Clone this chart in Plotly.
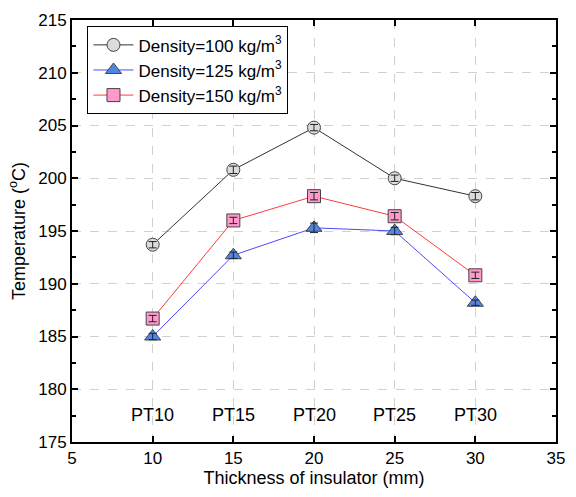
import plotly.graph_objects as go

# thickness of insulator (mm)
thickness = [10, 15, 20, 25, 30]
pt_labels = ["PT10", "PT15", "PT20", "PT25", "PT30"]

temp_100 = [193.7, 200.8, 204.8, 200.0, 198.3]
temp_125 = [185.0, 192.7, 195.3, 195.0, 188.2]
temp_150 = [186.7, 196.0, 198.3, 196.4, 190.8]

err_100 = [0.3, 0.35, 0.3, 0.3, 0.35]
err_125 = [0.3, 0.3, 0.45, 0.35, 0.25]
err_150 = [0.3, 0.3, 0.35, 0.35, 0.3]

series = [
    ("Density=100 kg/m<sup>3</sup>", temp_100, err_100, "circle", "#dcdcdc", "#333333", 13),
    ("Density=125 kg/m<sup>3</sup>", temp_125, err_125, "triangle-up", "#4f86e6", "#4a4aff", 14),
    ("Density=150 kg/m<sup>3</sup>", temp_150, err_150, "square", "#ff99cc", "#ff3b3b", 13),
]

fig = go.Figure()

for name, vals, _, sym, fill, line_col, size in series:
    fig.add_trace(go.Scatter(
        x=thickness, y=vals, name=name, mode="lines+markers",
        line=dict(color=line_col, width=1),
        marker=dict(symbol=sym, size=size, color=fill,
                    line=dict(color="#444444", width=1)),
    ))

# error bars drawn on top of the markers
for name, vals, errs, *_ in series:
    fig.add_trace(go.Scatter(
        x=thickness, y=vals, mode="markers", showlegend=False,
        marker=dict(size=1, opacity=0),
        error_y=dict(type="data", array=errs, color="#222222",
                     thickness=1, width=4),
        hoverinfo="skip",
    ))

for x, lab in zip(thickness, pt_labels):
    fig.add_annotation(x=x, y=177.6, text=lab, showarrow=False,
                       font=dict(size=18, color="black"))

axis_common = dict(
    showline=True, linecolor="black", linewidth=2, mirror="ticks",
    ticks="inside", ticklen=6, tickcolor="black", tickwidth=2,
    showgrid=True, gridcolor="#d0d0d0", griddash="dash", gridwidth=1,
    zeroline=False, tickfont=dict(size=17, color="black"),
)

fig.update_xaxes(
    range=[5, 35], dtick=5, tick0=5,
    title=dict(text="Thickness of insulator (mm)", font=dict(size=18, color="black"), standoff=2),
    **axis_common,
)
fig.update_yaxes(
    range=[175, 215], dtick=5,
    minor=dict(ticks="inside", ticklen=4, tickcolor="black", dtick=2.5, showgrid=False),
    title=dict(text="Temperature (<sup>o</sup>C)", font=dict(size=18, color="black"), standoff=8),
    **axis_common,
)

fig.update_layout(
    width=576, height=497,
    margin=dict(l=72, r=11, t=15, b=55),
    plot_bgcolor="white", paper_bgcolor="white",
    font=dict(family="Arial, Liberation Sans, sans-serif", color="black"),
    legend=dict(x=0.032, y=0.985, xanchor="left", yanchor="top",
                bgcolor="white", bordercolor="black", borderwidth=1,
                font=dict(size=17), tracegroupgap=0, itemwidth=40),
)

fig.write_html("out.html", config={"displayModeBar": False},
               post_script="document.body.style.margin='0';")
